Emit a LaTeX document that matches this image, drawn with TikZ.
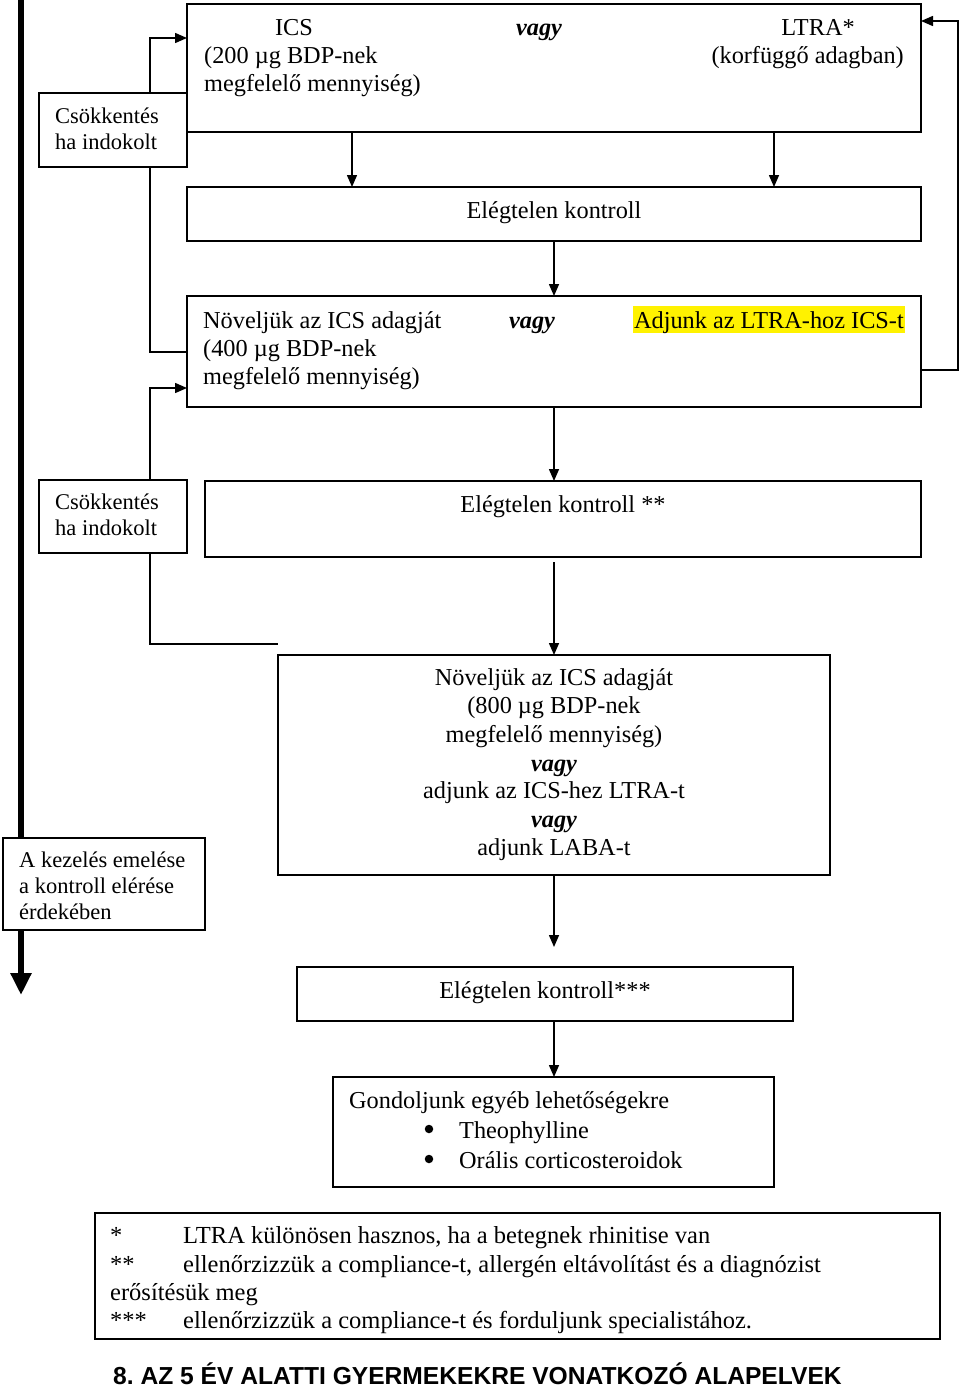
\documentclass[tikz,border=0pt]{standalone}
\usepackage{fontspec}
\setmainfont{Liberation Serif}
\newfontfamily\headfont{Liberation Sans}
\usetikzlibrary{arrows.meta}
\frenchspacing
\begin{document}
\begin{tikzpicture}[x=1pt,y=-1pt,
  box/.style={draw, line width=1.5pt, fill=white, inner sep=0pt, outer sep=0pt, anchor=north west},
  t/.style={inner sep=0pt, font=\fontsize{24.3}{28}\selectfont},
  vg/.style={inner sep=0pt, font=\fontsize{24.3}{28}\selectfont\bfseries\itshape},
  ts/.style={inner sep=0pt, font=\fontsize{22.5}{26}\selectfont},
  tf/.style={inner sep=0pt, font=\fontsize{24.5}{28}\selectfont},
  bul/.style={circle, fill=black, inner sep=0pt, minimum size=8.5pt},
  ln/.style={line width=1.5pt},
  arr/.style={line width=1.5pt, -{Triangle[length=12pt,width=10pt]}}]
\useasboundingbox (0,0) rectangle (960,1387);
% thick progression arrow
\coordinate (tA) at (21,0);
\coordinate (tB) at (21,995);
\draw[line width=6pt, -{Triangle[length=22pt,width=20pt]}] (tA) -- (tB);
% boxes
\node[box, minimum width=734pt, minimum height=128pt] (b1) at (187,4) {};
\node[box, minimum width=148pt, minimum height=74pt] (c1) at (39,93) {};
\node[box, minimum width=734pt, minimum height=54pt] (b2) at (187,187) {};
\node[box, minimum width=734pt, minimum height=111pt] (b3) at (187,296) {};
\node[box, minimum width=148pt, minimum height=73pt] (c2) at (39,480) {};
\node[box, minimum width=716pt, minimum height=76pt] (b4) at (205,481) {};
\node[box, minimum width=552pt, minimum height=220pt] (b5) at (278,655) {};
\node[box, minimum width=202pt, minimum height=92pt] (k) at (3,838) {};
\node[box, minimum width=496pt, minimum height=54pt] (b6) at (297,967) {};
\node[box, minimum width=441pt, minimum height=110pt] (b7) at (333,1077) {};
\node[box, minimum width=845pt, minimum height=126pt] (fn) at (95,1213) {};
% texts box 1
\node[t, anchor=base] (b1a) at (294,35) {ICS};
\node[t, anchor=base west] (b1b) at (204,63) {(200 µg BDP-nek};
\node[t, anchor=base west] (b1c) at (204,91) {megfelelő mennyiség)};
\node[vg, anchor=base] (b1v) at (539,35) {vagy};
\node[t, anchor=base] (b1d) at (818,35) {LTRA*};
\node[t, anchor=base east] (b1e) at (904,63) {(korfüggő adagban)};
% c1
\node[ts, anchor=base west] (c1a) at (55,123) {Csökkentés};
\node[ts, anchor=base west] (c1b) at (55,149) {ha indokolt};
% b2
\node[t, anchor=base] (b2a) at (554,218) {Elégtelen kontroll};
% b3
\node[t, anchor=base west] (b3a) at (203,328) {Növeljük az ICS adagját};
\node[t, anchor=base west] (b3b) at (203,356) {(400 µg BDP-nek};
\node[t, anchor=base west] (b3c) at (203,384) {megfelelő mennyiség)};
\node[vg, anchor=base] (b3v) at (532,328) {vagy};
\node[t, anchor=base east, fill=yellow, text height=22pt, text depth=5pt, inner xsep=1pt] (b3d) at (905,328) {Adjunk az LTRA-hoz ICS-t};
% c2
\node[ts, anchor=base west] (c2a) at (55,509) {Csökkentés};
\node[ts, anchor=base west] (c2b) at (55,535) {ha indokolt};
% b4
\node[t, anchor=base] (b4a) at (563,512) {Elégtelen kontroll **};
% b5
\node[t, anchor=base] (b5a) at (554,685) {Növeljük az ICS adagját};
\node[t, anchor=base] (b5b) at (554,713) {(800 µg BDP-nek};
\node[t, anchor=base] (b5c) at (554,742) {megfelelő mennyiség)};
\node[vg, anchor=base] (b5d) at (554,771) {vagy};
\node[t, anchor=base] (b5e) at (554,798) {adjunk az ICS-hez LTRA-t};
\node[vg, anchor=base] (b5f) at (554,827) {vagy};
\node[t, anchor=base] (b5g) at (554,855) {adjunk LABA-t};
% k
\node[ts, anchor=base west] (ka) at (19,867) {A kezelés emelése};
\node[ts, anchor=base west] (kb) at (19,893) {a kontroll elérése};
\node[ts, anchor=base west] (kc) at (19,919) {érdekében};
% b6
\node[t, anchor=base] (b6a) at (545,998) {Elégtelen kontroll***};
% b7
\node[t, anchor=base west] (b7a) at (349,1108) {Gondoljunk egyéb lehetőségekre};
\node[bul] (b7b1) at (429,1129) {};
\node[bul] (b7c1) at (429,1159) {};
\node[t, anchor=base west] (b7b) at (459,1138) {Theophylline};
\node[t, anchor=base west] (b7c) at (459,1168) {Orális corticosteroidok};
% footnotes
\node[tf, anchor=base west] (f1s) at (110,1243) {*};
\node[tf, anchor=base west] (f1) at (183,1243) {LTRA különösen hasznos, ha a betegnek rhinitise van};
\node[tf, anchor=base west] (f2s) at (110,1272) {**};
\node[tf, anchor=base west] (f2) at (183,1272) {ellenőrzizzük a compliance-t, allergén eltávolítást és a diagnózist};
\node[tf, anchor=base west] (f2b) at (110,1300) {erősítésük meg};
\node[tf, anchor=base west] (f3s) at (110,1328) {***};
\node[tf, anchor=base west] (f3) at (183,1328) {ellenőrzizzük a compliance-t és forduljunk specialistához.};
% heading
\node[inner sep=0pt, anchor=base west, font=\headfont\fontsize{24.6}{28}\selectfont\bfseries] (head) at (113,1384) {8. AZ 5 ÉV ALATTI GYERMEKEKRE VONATKOZÓ ALAPELVEK};
% helper coordinates
\coordinate (xc) at (150,0);
\coordinate (xm) at (554,0);
\coordinate (xL) at (352,0);
\coordinate (xR) at (774,0);
\coordinate (xF) at (958,0);
\coordinate (yA) at (0,38);
\coordinate (yB) at (0,352);
\coordinate (yC) at (0,388);
\coordinate (yD) at (0,644);
\coordinate (yE) at (0,370);
\coordinate (yF) at (0,21);
% connectors
\draw[arr] (c1.north -| xc) |- (b1.west |- yA);
\draw[ln] (c1.south -| xc) |- (b3.west |- yB);
\draw[arr] (c2.north -| xc) |- (b3.west |- yC);
\draw[ln] (c2.south -| xc) |- (b5.west |- yD);
\draw[arr] (b3.east |- yE) -| (xF |- yF) -- (b1.east |- yF);
\draw[arr] (b1.south -| xL) -- (b2.north -| xL);
\draw[arr] (b1.south -| xR) -- (b2.north -| xR);
\draw[arr] (b2.south -| xm) -- (b3.north -| xm);
\draw[arr] (b3.south -| xm) -- (b4.north -| xm);
\draw[arr, shorten <=5pt] (b4.south -| xm) -- (b5.north -| xm);
\draw[arr, shorten >=20pt] (b5.south -| xm) -- (b6.north -| xm);
\draw[arr] (b6.south -| xm) -- (b7.north -| xm);
\end{tikzpicture}
\end{document}
